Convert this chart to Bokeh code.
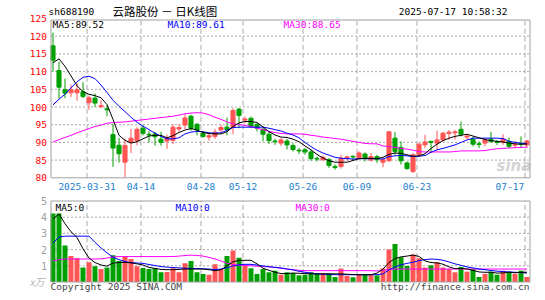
from bokeh.plotting import figure
from bokeh.models import Range1d, ColumnDataSource
from bokeh.core.properties import value
from bokeh.embed import file_html
from bokeh.resources import INLINE

# ---------------- data ----------------
date_idx = [6, 15, 25, 32, 42, 51, 61, 79]
date_lbl = ["2025-03-31", "04-14", "04-28", "05-12", "05-26", "06-09", "06-23", "07-17"]

open_ = [117.3, 110.3, 104.9, 104.0, 104.0, 104.3, 101.2, 102.5, 100.1, 99.5,
         92.2, 89.2, 84.4, 90.0, 90.5, 94.0, 92.3, 92.4, 90.9, 90.4,
         90.6, 93.8, 94.9, 97.4, 95.1, 92.5, 91.5, 91.7, 93.5, 94.3,
         94.2, 99.4, 96.3, 96.8, 95.1, 93.7, 92.3, 90.4, 89.8, 90.4,
         89.1, 87.8, 87.9, 87.3, 85.5, 85.1, 85.1, 83.2, 83.2, 85.6,
         86.1, 85.6, 86.7, 85.0, 86.0, 84.4, 84.8, 91.2, 88.6, 84.2,
         81.8, 86.5, 89.3, 90.3, 89.8, 90.7, 92.5, 92.7, 93.7, 91.5,
         90.9, 89.6, 89.8, 90.9, 90.2, 90.1, 90.3, 89.2, 89.6, 89.3]
high = [121.0, 112.8, 108.0, 106.4, 106.8, 107.0, 103.2, 103.8, 101.9, 100.6,
        95.2, 91.3, 91.0, 93.8, 94.2, 94.8, 93.2, 93.0, 93.0, 92.2,
        95.1, 95.2, 97.9, 97.8, 95.5, 93.2, 92.7, 93.8, 95.0, 97.0,
        99.7, 99.7, 97.3, 97.3, 95.4, 94.2, 93.0, 91.0, 91.2, 91.0,
        89.8, 88.4, 88.4, 87.9, 86.0, 86.3, 85.6, 83.8, 86.5, 86.3,
        86.3, 87.5, 87.2, 87.0, 86.5, 85.6, 93.1, 92.9, 90.3, 84.6,
        87.0, 89.8, 92.1, 90.4, 93.3, 93.0, 93.5, 93.5, 95.9, 92.3,
        91.7, 90.3, 91.2, 93.0, 90.7, 92.3, 91.4, 90.3, 91.7, 90.7]
low = [110.0, 102.3, 102.5, 102.8, 101.8, 102.5, 99.2, 100.0, 99.6, 97.4,
       83.1, 84.3, 80.2, 87.0, 89.2, 92.0, 90.0, 89.1, 89.1, 88.2,
       89.5, 93.0, 93.8, 93.3, 92.0, 91.3, 90.5, 91.0, 92.9, 92.0,
       92.3, 94.0, 95.4, 94.0, 93.1, 90.3, 89.5, 89.3, 89.0, 88.0,
       87.4, 86.7, 86.5, 84.8, 84.6, 84.8, 82.8, 82.3, 82.6, 84.8,
       84.8, 85.3, 84.6, 84.6, 84.2, 83.0, 84.6, 86.5, 83.7, 82.3,
       81.3, 86.0, 88.4, 87.0, 87.9, 90.3, 90.7, 90.8, 91.7, 90.8,
       88.9, 88.4, 88.9, 89.8, 89.3, 89.3, 88.4, 88.4, 88.4, 88.5]
close = [113.2, 105.6, 103.9, 104.9, 104.9, 103.0, 102.6, 101.1, 100.4, 99.2,
         88.4, 86.8, 89.1, 91.2, 93.7, 92.6, 92.1, 91.6, 90.0, 91.2,
         94.3, 94.2, 96.9, 94.0, 93.5, 91.7, 91.9, 92.9, 94.2, 93.5,
         99.0, 97.6, 96.6, 94.5, 94.0, 92.3, 90.5, 90.2, 90.7, 89.3,
         88.0, 87.6, 87.3, 85.4, 85.3, 85.8, 83.5, 82.9, 85.6, 85.9,
         85.9, 87.0, 85.4, 86.0, 85.1, 85.1, 93.0, 87.4, 84.8, 82.6,
         86.5, 89.5, 90.1, 90.0, 90.7, 92.6, 92.9, 93.0, 92.3, 91.8,
         89.5, 89.4, 90.7, 90.3, 90.0, 90.9, 88.9, 89.4, 89.4, 90.4]

ma5 = [112.5, 113.6, 111.5, 108.8, 106.0, 104.3, 103.6, 103.2, 102.6, 100.7,
       96.5, 92.0, 90.6, 89.8, 90.2, 91.0, 91.8, 92.0, 92.0, 91.3,
       91.9, 92.8, 93.5, 93.9, 93.5, 92.8, 92.5, 92.4, 92.4, 93.0,
       94.5, 95.5, 95.9, 95.9, 95.6, 94.4, 93.0, 92.1, 91.5, 91.4,
       90.9, 90.2, 89.0, 87.9, 86.6, 85.6, 84.8, 84.4, 84.4, 84.4,
       84.9, 85.4, 85.5, 85.5, 85.4, 85.8, 86.6, 87.0, 86.9, 86.5,
       86.1, 86.2, 86.8, 88.3, 89.5, 90.5, 91.2, 91.7, 92.0, 92.3,
       91.8, 91.3, 90.8, 90.5, 90.3, 90.1, 89.8, 89.6, 89.5, 89.52]
ma10 = [100.6, 102.2, 103.6, 105.4, 107.1, 108.4, 108.7, 108.0, 106.2, 104.1,
        101.9, 100.2, 98.7, 97.1, 95.7, 94.6, 93.6, 92.6, 91.7, 91.0,
        91.0, 91.3, 92.4, 92.9, 93.1, 93.0, 92.7, 92.6, 92.7, 93.4,
        94.2, 94.3, 94.3, 94.3, 94.3, 94.3, 94.0, 93.6, 93.2, 92.6,
        92.1, 91.3, 90.0, 88.8, 87.8, 87.0, 86.4, 85.8, 85.5, 85.4,
        85.3, 85.4, 85.4, 85.4, 85.4, 85.3, 86.0, 86.2, 86.3, 86.2,
        86.0, 86.1, 86.3, 87.2, 87.9, 88.3, 88.8, 89.3, 90.0, 90.7,
        91.2, 91.2, 91.2, 91.2, 91.2, 91.1, 90.3, 90.0, 89.8, 89.61]
ma30 = [90.1, 90.8, 91.4, 92.0, 92.7, 93.3, 93.9, 94.5, 94.9, 95.4,
        95.6, 95.7, 95.8, 96.0, 96.2, 96.4, 96.6, 96.8, 97.0, 97.2,
        97.4, 97.7, 98.1, 98.3, 98.4, 98.3, 97.8, 97.1, 96.5, 95.8,
        95.2, 95.0, 94.8, 94.5, 94.0, 93.6, 93.1, 92.8, 92.5, 92.4,
        92.4, 92.4, 92.3, 92.0, 91.8, 91.5, 91.3, 91.1, 90.9, 90.6,
        90.3, 90.0, 89.7, 89.6, 89.6, 89.0, 88.8, 88.6, 88.3, 88.1,
        87.8, 87.4, 87.3, 87.3, 87.3, 87.3, 87.3, 87.4, 87.6, 87.6,
        87.6, 87.6, 87.7, 88.0, 88.2, 88.3, 88.4, 88.5, 88.6, 88.65]

volume = [4.23, 4.23, 2.25, 1.61, 1.46, 0.89, 1.22, 0.97, 0.80, 0.89,
          1.65, 1.30, 1.57, 1.42, 0.97, 0.87, 0.80, 0.85, 0.60, 0.62,
          0.85, 0.60, 1.15, 1.30, 0.60, 0.50, 0.45, 1.10, 0.80, 1.60,
          1.95, 1.50, 1.00, 0.85, 0.50, 0.80, 0.60, 0.70, 0.45, 0.60,
          0.56, 0.41, 0.45, 0.60, 0.55, 0.56, 0.54, 0.31, 0.83, 0.37,
          0.29, 0.45, 0.45, 0.45, 0.41, 0.83, 2.00, 2.35, 1.53, 0.99,
          1.70, 1.47, 0.89, 1.03, 1.22, 0.89, 0.80, 0.60, 0.93, 0.64,
          0.80, 0.31, 0.50, 0.64, 0.45, 0.70, 0.64, 0.50, 0.70, 0.31]
vma5 = [3.9, 4.2, 3.6, 3.1, 2.75, 2.05, 1.48, 1.2, 1.05, 0.98,
        1.17, 1.2, 1.21, 1.18, 1.12, 1.05, 0.9, 0.84, 0.78, 0.76,
        0.76, 0.78, 0.8, 0.8, 0.8, 0.8, 0.76, 0.7, 0.75, 1.0,
        1.25, 1.33, 1.34, 1.34, 1.12, 0.85, 0.72, 0.6, 0.52, 0.52,
        0.55, 0.54, 0.52, 0.5, 0.5, 0.5, 0.5, 0.5, 0.5, 0.48,
        0.46, 0.45, 0.45, 0.45, 0.55, 0.8, 1.2, 1.45, 1.55, 1.6,
        1.66, 1.58, 1.3, 1.2, 1.18, 1.1, 0.93, 0.82, 0.83, 0.81,
        0.72, 0.62, 0.6, 0.6, 0.55, 0.56, 0.6, 0.57, 0.6, 0.6]
vma10 = [2.4, 2.78, 2.83, 2.83, 2.83, 2.83, 2.83, 2.45, 2.1, 1.8,
         1.53, 1.38, 1.26, 1.2, 1.17, 1.15, 1.08, 1.02, 0.95, 0.92,
         0.89, 0.87, 0.85, 0.84, 0.83, 0.82, 0.8, 0.77, 0.8, 0.88,
         0.99, 1.06, 1.09, 1.09, 1.05, 0.99, 0.94, 0.9, 0.87, 0.8,
         0.75, 0.66, 0.6, 0.55, 0.5, 0.48, 0.46, 0.45, 0.45, 0.45,
         0.45, 0.45, 0.45, 0.45, 0.45, 0.5, 0.75, 0.93, 1.06, 1.15,
         1.22, 1.32, 1.38, 1.42, 1.4, 1.34, 1.24, 1.12, 1.03, 0.93,
         0.87, 0.8, 0.76, 0.71, 0.67, 0.64, 0.62, 0.6, 0.58, 0.56]
vma30 = [1.3, 1.38, 1.42, 1.42, 1.42, 1.42, 1.42, 1.42, 1.43, 1.48,
         1.54, 1.57, 1.57, 1.57, 1.57, 1.57, 1.57, 1.57, 1.57, 1.57,
         1.57, 1.6, 1.63, 1.66, 1.64, 1.6, 1.52, 1.42, 1.3, 1.15,
         1.08, 1.04, 1.02, 1.0, 0.97, 0.95, 0.94, 0.9, 0.85, 0.8,
         0.76, 0.72, 0.7, 0.7, 0.7, 0.7, 0.7, 0.7, 0.7, 0.7,
         0.7, 0.7, 0.7, 0.7, 0.68, 0.72, 0.77, 0.8, 0.8, 0.8,
         0.8, 0.8, 0.8, 0.8, 0.8, 0.8, 0.8, 0.8, 0.8, 0.8,
         0.8, 0.8, 0.8, 0.8, 0.8, 0.8, 0.8, 0.8, 0.8, 0.8]

price_ticks = [80, 85, 90, 95, 100, 105, 110, 115, 120, 125]
vol_ticks = [1, 2, 3, 4, 5]
legend_main = ["MA5:89.52", "MA10:89.61", "MA30:88.65"]
legend_vol = ["MA5:0", "MA10:0", "MA30:0"]

# ---------------- geometry / styling ----------------
RED = "#ff5555"
GREEN = "#00a000"
FRAME = "#a0a0a0"
GRID = "#aaaaaa"
DATEC = "#2080d0"
MONO = "DejaVu Sans Mono"
MA_COLORS = ["#000000", "#0000ff", "#ff00ff"]

W, H = 537, 292
VBOT = 281.5                          # canvas y of volume zero line
PXU, PYU, VYU = 6.0, 3.54, (VBOT - 200.5) / 5


def px_x(px):          # canvas pixel x -> candle index
    return (px - 52.5) / PXU


def py1(py):           # canvas pixel y -> price (80 at y 177.3)
    return 80 + (177.3 - py) / PYU


def py2(py):           # canvas pixel y -> volume
    return (VBOT - py) / VYU


p = figure(width=W, height=H, output_backend="svg", toolbar_location=None,
           x_axis_location=None, y_axis_location=None, min_border=0,
           x_range=Range1d(px_x(0), px_x(W)), y_range=Range1d(py1(H), py1(0)))
p.extra_y_ranges = {"vol": Range1d(py2(H), py2(0))}
p.outline_line_color = None
p.grid.visible = False
p.background_fill_color = "white"
p.border_fill_color = "white"

XL, XR = px_x(50.5), px_x(529.5)
PTOP = py1(19.5)

# watermark (behind everything)
p.text(x=[px_x(496)], y=[py1(165)], text=["sina"], text_color="#d4d4d4",
       text_font=value("DejaVu Sans"), text_font_style="bold italic",
       text_font_size="15px", text_baseline="middle")

# grids
gp = price_ticks[1:-1]
p.segment(x0=[XL] * len(gp), x1=[XR] * len(gp), y0=gp, y1=gp,
          line_color=GRID, line_dash="2 2", line_width=1)
gv = vol_ticks[:-1]
p.segment(x0=[XL] * len(gv), x1=[XR] * len(gv), y0=gv, y1=gv,
          line_color=GRID, line_dash="2 2", line_width=1, y_range_name="vol")
dx = [d - 0.333 for d in date_idx]
p.segment(x0=dx, x1=dx, y0=[80] * len(dx), y1=[PTOP] * len(dx),
          line_color=GRID, line_dash="5 3", line_width=1)
p.segment(x0=dx, x1=dx, y0=[0] * len(dx), y1=[5] * len(dx),
          line_color=GRID, line_dash="5 3", line_width=1, y_range_name="vol")

# candles
idx = list(range(len(close)))
colors = [RED if c >= o else GREEN for o, c in zip(open_, close)]
src = ColumnDataSource(dict(
    x=idx, h=high, l=low,
    top=[max(a, b) for a, b in zip(open_, close)],
    bot=[min(a, b) for a, b in zip(open_, close)],
    color=colors, vol=volume,
    ma5=ma5, ma10=ma10, ma30=ma30, vma5=vma5, vma10=vma10, vma30=vma30))

p.segment(x0="x", y0="l", x1="x", y1="h", line_color="color", line_width=1, source=src)
p.vbar(x="x", top="top", bottom="bot", width=0.68, fill_color="color",
       line_color="color", line_width=1, source=src)
p.line("x", "ma30", line_color=MA_COLORS[2], line_width=1, source=src)
p.line("x", "ma10", line_color=MA_COLORS[1], line_width=1, source=src)
p.line("x", "ma5", line_color=MA_COLORS[0], line_width=1, source=src)

# volume
p.vbar(x="x", top="vol", bottom=0, width=0.83, fill_color="color", line_color=None,
       source=src, y_range_name="vol")
p.line("x", "vma30", line_color=MA_COLORS[2], line_width=1, source=src, y_range_name="vol")
p.line("x", "vma10", line_color=MA_COLORS[1], line_width=1, source=src, y_range_name="vol")
p.line("x", "vma5", line_color=MA_COLORS[0], line_width=1, source=src, y_range_name="vol")

# frames
p.quad(left=[XL], right=[XR], bottom=[80], top=[PTOP], fill_color=None,
       line_color=FRAME, line_width=1)
p.quad(left=[XL], right=[XR], bottom=[0], top=[5], fill_color=None,
       line_color=FRAME, line_width=1, y_range_name="vol")

# axis tick labels
p.text(x=[px_x(46.5)] * len(price_ticks), y=price_ticks, text=[str(t) for t in price_ticks],
       text_color="#ff0000", text_font=value(MONO), text_font_size="9.5px",
       text_align="right", text_baseline="middle")
p.text(x=[px_x(46.5)] * len(vol_ticks), y=vol_ticks, text=[str(t) for t in vol_ticks],
       text_color="#a0a0a0", text_font=value(MONO), text_font_size="10px",
       text_align="right", text_baseline="middle", y_range_name="vol")
p.text(x=[px_x(44)], y=[py2(281)], text=["x万"], text_color="#b4b4b4",
       text_font=value("Noto Sans CJK SC"), text_font_style="italic",
       text_font_size="10px", text_align="right", text_baseline="middle",
       y_range_name="vol")

# date labels
p.text(x=dx[:-1], y=[py1(186)] * (len(dx) - 1), text=date_lbl[:-1], text_color=DATEC,
       text_font=value(MONO), text_font_size="9.5px", text_align="center",
       text_baseline="middle")
p.text(x=[dx[-1] - 0.15], y=[py1(186)], text=[date_lbl[-1]], text_color=DATEC,
       text_font=value(MONO), text_font_size="9.5px", text_align="right",
       text_baseline="middle")

# header
p.text(x=[px_x(48)], y=[py1(11)], text=["sh688190"], text_color="#000000",
       text_font=value(MONO), text_font_size="9.5px", text_baseline="middle")
p.text(x=[px_x(169.5)], y=[py1(10)], text=["云路股份   －   日K线图"], text_color="#000000",
       text_font=value("Noto Sans CJK SC"), text_font_size="11.5px",
       text_align="center", text_baseline="middle")
p.text(x=[px_x(507)], y=[py1(11)], text=["2025-07-17 10:58:32"], text_color="#000000",
       text_font=value(MONO), text_font_size="9.5px", text_align="right",
       text_baseline="middle")

# legends
p.text(x=[px_x(52), px_x(167), px_x(283)], y=[py1(23.5)] * 3, text=legend_main,
       text_color=MA_COLORS, text_font=value(MONO), text_font_size="9.5px",
       text_baseline="middle")
p.text(x=[px_x(55), px_x(175), px_x(295)], y=[py2(207)] * 3, text=legend_vol,
       text_color=MA_COLORS, text_font=value(MONO), text_font_size="9.5px",
       text_baseline="middle", y_range_name="vol")

# footer
p.text(x=[px_x(50)], y=[py2(286)], text=["Copyright 2025 SINA.COM"], text_color="#444444",
       text_font=value(MONO), text_font_size="9.5px", text_baseline="middle",
       y_range_name="vol")
p.text(x=[px_x(529)], y=[py2(286)], text=["http://finance.sina.com.cn"], text_color="#444444",
       text_font=value(MONO), text_font_size="9.5px", text_align="right",
       text_baseline="middle", y_range_name="vol")

open("out.html", "w").write(file_html(p, INLINE))
